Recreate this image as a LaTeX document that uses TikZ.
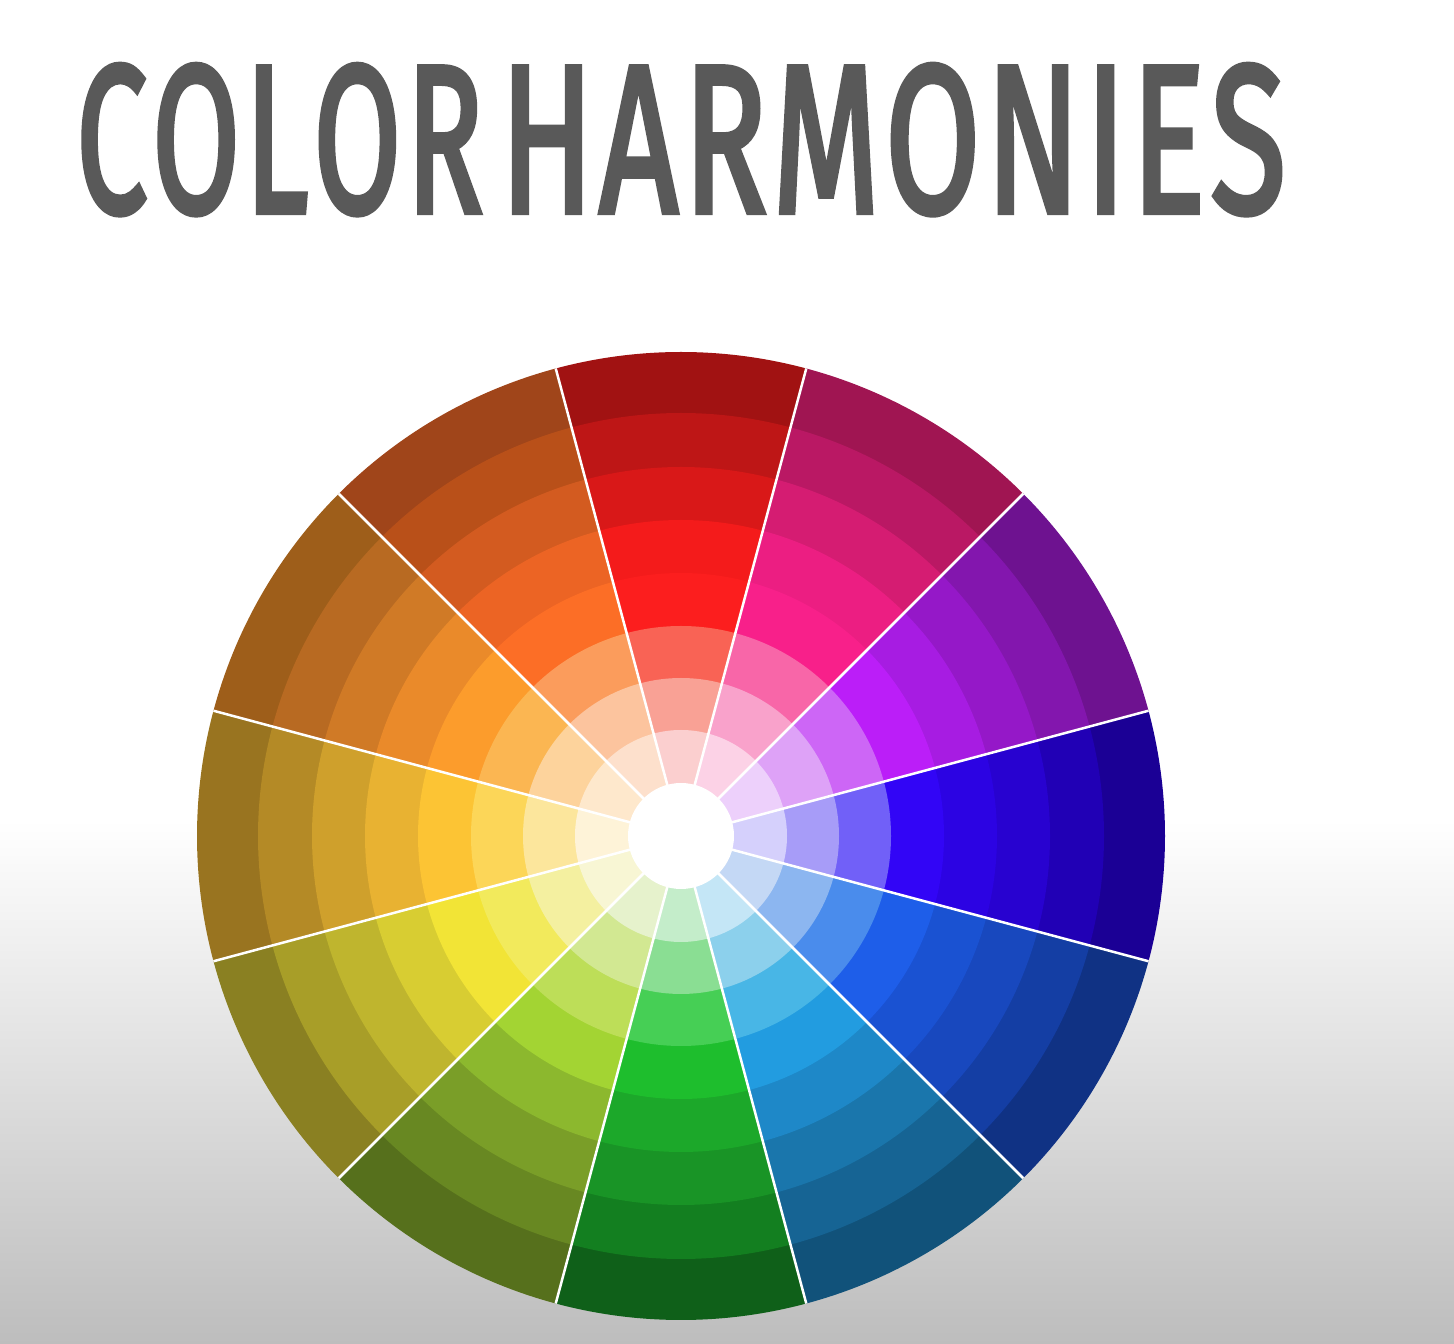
\documentclass[tikz,border=0pt]{standalone}
\usepackage{fontspec}
\setmainfont{Fira Sans}
\newfontfamily\titlefont[FakeBold=3]{Fira Sans}
\usepackage{graphicx}
\definecolor{titlegray}{HTML}{595959}
\definecolor{bggray}{HTML}{BDBDBD}
\newcommand\defseg[9]{%
  \definecolor{s#1r1}{HTML}{#2}\definecolor{s#1r2}{HTML}{#3}%
  \definecolor{s#1r3}{HTML}{#4}\definecolor{s#1r4}{HTML}{#5}%
  \definecolor{s#1r5}{HTML}{#6}\definecolor{s#1r6}{HTML}{#7}%
  \definecolor{s#1r7}{HTML}{#8}\definecolor{s#1r8}{HTML}{#9}}
\defseg{0}{FBCFCF}{F9A195}{F96355}{FC1E1E}{F41B1B}{D91818}{BE1616}{A11212}
\defseg{1}{FCD2E6}{F9A2CB}{F866A8}{F8208A}{EC1E82}{D51C72}{BA1864}{A01552}
\defseg{2}{EDD0FB}{DEA2F7}{CD66F6}{BB1EF8}{A71CE2}{9518C8}{8316AE}{6E1290}
\defseg{3}{D5D0FC}{A79CF8}{7160F8}{3205F6}{2C03E3}{2802D0}{2100B5}{1B0095}
\defseg{4}{C4D8F5}{8CB6F0}{4A8CEC}{1E5EE9}{1A52D2}{1848BE}{143EA4}{103284}
\defseg{5}{C4E6F6}{8CD0EC}{48B6E6}{229CE0}{1E88C8}{1A76AC}{166494}{11527A}
\defseg{6}{C4EDCA}{8ADE93}{46CF55}{1EBE2D}{1CA82A}{199426}{137F20}{0F6019}
\defseg{7}{E6F2CC}{D2E892}{BDDE58}{A3D433}{8CB82E}{7A9E28}{688822}{56701C}
\defseg{8}{F8F6D4}{F4F0A0}{F2EA5C}{F2E436}{D8CD32}{BFB52E}{A89E28}{8A8022}
\defseg{9}{FEF3D8}{FCE69C}{FCD658}{FCC434}{E8B232}{CFA02C}{B48A26}{997420}
\defseg{10}{FEE8CC}{FDD39C}{FBB652}{FC9C2C}{EA8A2A}{D07A26}{B86A22}{9E5E1A}
\defseg{11}{FDE0CC}{FCC49E}{FB9C5C}{FC6E26}{EC6424}{D35B20}{B95019}{A0451A}
\tikzset{
  sepline/.style={white, line width=2.5pt},
  titletext/.style={anchor=base west, inner sep=0pt, text=titlegray}
}
\begin{document}
\begin{tikzpicture}[x=1pt,y=1pt]
\useasboundingbox (0,0) rectangle (1454,1344);
\fill[white] (0,0) rectangle (1454,1344);
\shade[top color=white, bottom color=bggray] (0,0) rectangle (1454,524);
\coordinate (C) at (681,508);
\foreach \s in {0,...,11}{
  \foreach \r/\rad in {8/484,7/423,6/369,5/316,4/263,3/210,2/158,1/106}{
    \pgfmathsetmacro\aone{75-30*\s}
    \pgfmathsetmacro\atwo{105-30*\s}
    \fill[s\s r\r] (C) -- +(\aone:\rad) arc[start angle=\aone, end angle=\atwo, radius=\rad] -- cycle;
  }
}
\foreach \k in {0,...,11}{
  \draw[sepline] (C) -- +({15+30*\k}:484);
}
\fill[white] (C) circle (53);
\node[titletext] (t1) at (76,1132) {\resizebox{407pt}{147pt}{\titlefont C\kern0.04em O\kern0.04em L\kern0.04em O\kern0.04em R}};
\node[titletext] (t2) at (500,1132) {\resizebox{785pt}{147pt}{\titlefont H\kern0.04em A\kern0.04em R\kern0.04em M\kern0.04em O\kern0.04em N\kern0.04em I\kern0.04em E\kern0.04em S}};
\end{tikzpicture}
\end{document}
